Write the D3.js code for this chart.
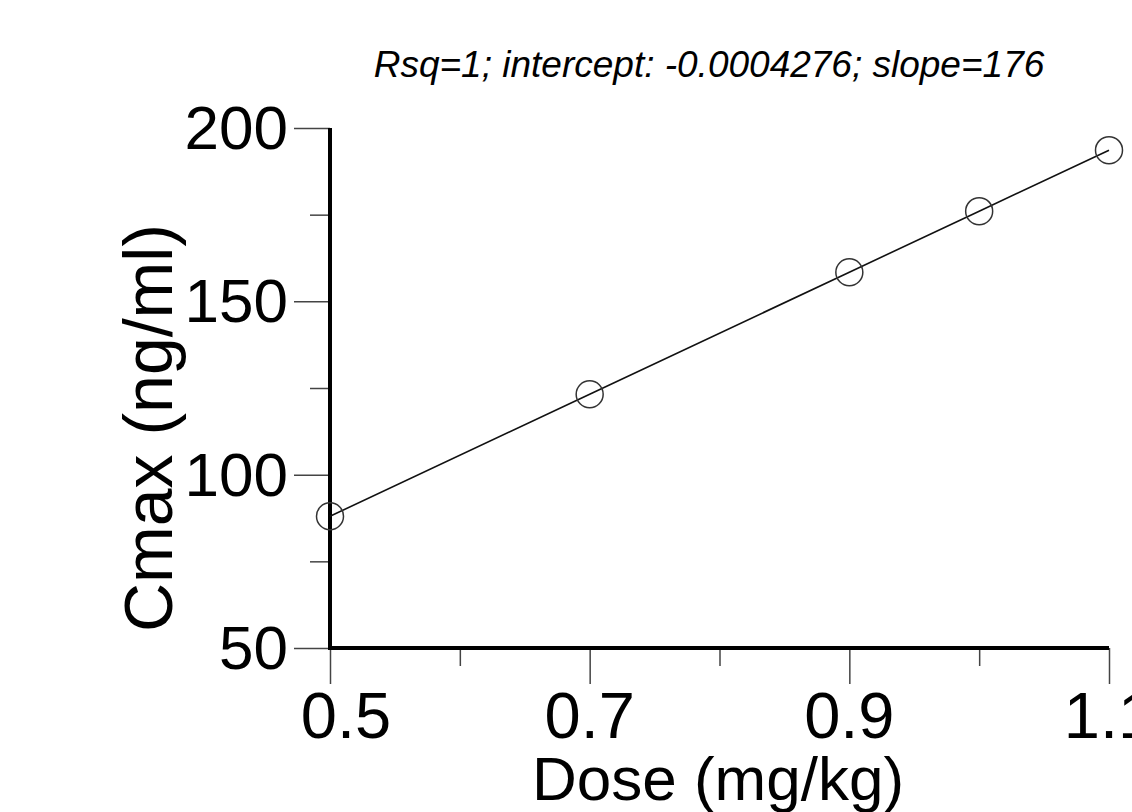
<!DOCTYPE html>
<html>
<head>
<meta charset="utf-8">
<script src="https://cdn.jsdelivr.net/npm/d3@7"></script>
<style>
  body { margin: 0; background: #fff; }
  svg { display: block; font-family: "Liberation Sans", Arial, sans-serif; }
</style>
</head>
<body>
<svg id="chart" width="1132" height="812"></svg>
<script>
// data
var doses = [0.5, 0.7, 0.9, 1.0, 1.1];
var cmax = [88.0, 123.2, 158.4, 176.0, 193.6];
var xTicks = [0.5, 0.6, 0.7, 0.8, 0.9, 1.0, 1.1];
var xLabels = [0.5, 0.7, 0.9, 1.1];
var yTicks = [50, 75, 100, 125, 150, 175, 200];
var yLabels = [50, 100, 150, 200];
var title = "Rsq=1; intercept: -0.0004276; slope=176";

var svg = d3.select("#chart");

var x = d3.scaleLinear().domain([0.5, 1.1]).range([330, 1109]);
var y = d3.scaleLinear().domain([50, 200]).range([648, 128]);

var isMajor = function(list) {
    return function(v) { return list.some(function(l) { return Math.abs(l - v) < 1e-9; }); };
};
var xMajor = isMajor(xLabels), yMajor = isMajor(yLabels);

// y axis
var yAxis = svg.append("g")
    .attr("transform", "translate(330,0)")
    .call(d3.axisLeft(y).tickValues(yTicks).tickSizeOuter(0).tickFormat(""));
yAxis.select(".domain").remove();
yAxis.selectAll(".tick line")
    .attr("x2", d => yMajor(d) ? -36 : -20)
    .attr("stroke", "#444")
    .attr("stroke-width", 1.5);

// x axis
var xAxis = svg.append("g")
    .attr("transform", "translate(0,648)")
    .call(d3.axisBottom(x).tickValues(xTicks).tickSizeOuter(0).tickFormat(""));
xAxis.select(".domain").remove();
xAxis.selectAll(".tick line")
    .attr("y2", d => xMajor(d) ? 36 : 18)
    .attr("stroke", "#444")
    .attr("stroke-width", 1.5);

// thick axis lines
svg.append("line")
    .attr("x1", x(0.5)).attr("x2", x(0.5))
    .attr("y1", y(200)).attr("y2", y(50) + 2)
    .attr("stroke", "#000").attr("stroke-width", 4);
svg.append("line")
    .attr("x1", x(0.5) - 2).attr("x2", x(1.1))
    .attr("y1", y(50)).attr("y2", y(50))
    .attr("stroke", "#000").attr("stroke-width", 4);

// tick labels
svg.selectAll(".ylab")
    .data(yLabels)
  .enter().append("text")
    .attr("class", "ylab")
    .attr("x", 288)
    .attr("y", d => y(d) + 21)
    .attr("text-anchor", "end")
    .attr("font-size", 62)
    .text(d => d);

// first label sits a little right of its tick, clear of the y axis
svg.selectAll(".xlab")
    .data(xLabels)
  .enter().append("text")
    .attr("class", "xlab")
    .attr("x", (d, i) => x(d) + (i == 0 ? 16 : 0))
    .attr("y", 738)
    .attr("text-anchor", "middle")
    .attr("font-size", 65)
    .text(d => d3.format(".1f")(d));

// axis titles
svg.append("text")
    .attr("x", 718)
    .attr("y", 800)
    .attr("text-anchor", "middle")
    .attr("font-size", 62)
    .text("Dose (mg/kg)");

svg.append("text")
    .attr("transform", "translate(172,428) rotate(-90)")
    .attr("text-anchor", "middle")
    .attr("font-size", 68)
    .text("Cmax (ng/ml)");

// title
svg.append("text")
    .attr("x", 709)
    .attr("y", 77)
    .attr("text-anchor", "middle")
    .attr("font-size", 37)
    .attr("font-style", "italic")
    .text(title);

// fit line and points
var pts = doses.map(function(d, i) { return {dose: d, cmax: cmax[i]}; });

svg.append("path")
    .datum(pts)
    .attr("fill", "none")
    .attr("stroke", "#111")
    .attr("stroke-width", 1.6)
    .attr("d", d3.line().x(d => x(d.dose)).y(d => y(d.cmax)));

svg.selectAll(".pt")
    .data(pts)
  .enter().append("circle")
    .attr("class", "pt")
    .attr("cx", d => x(d.dose))
    .attr("cy", d => y(d.cmax))
    .attr("r", 13.5)
    .attr("fill", "none")
    .attr("stroke", "#333")
    .attr("stroke-width", 1.5);
</script>
</body>
</html>
